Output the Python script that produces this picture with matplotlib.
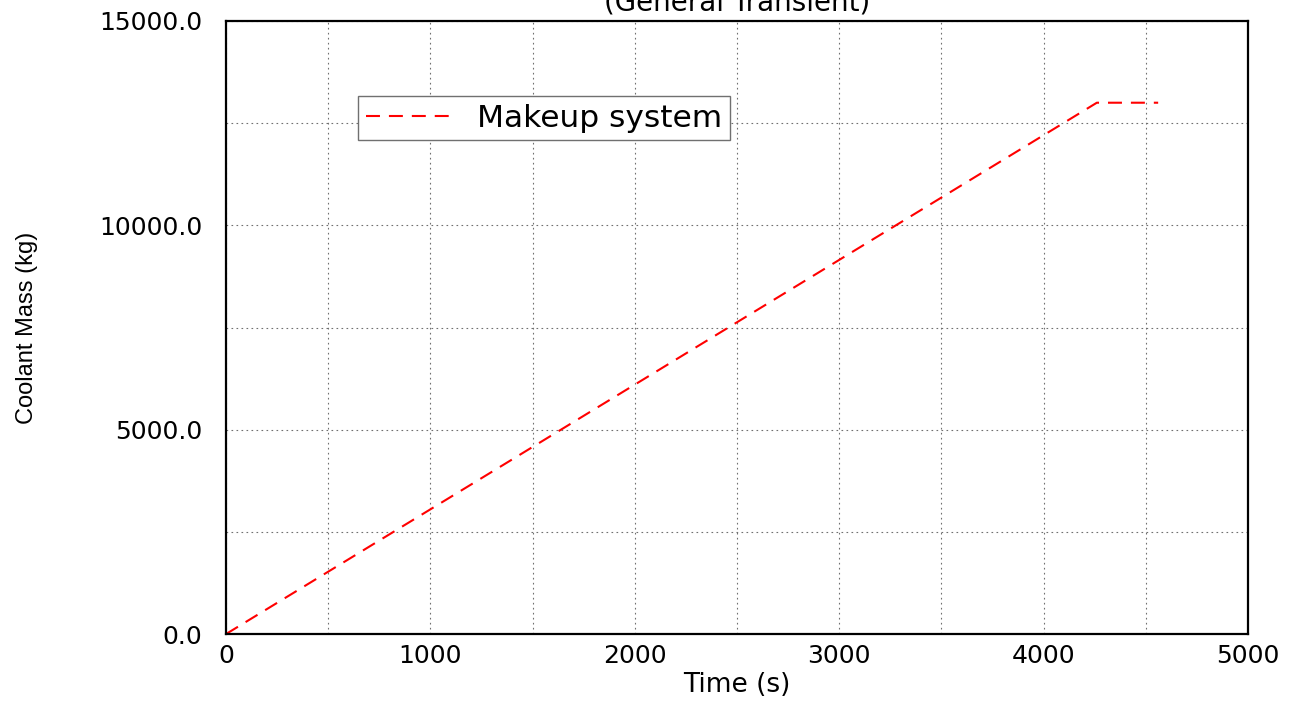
import numpy as np
import matplotlib.pyplot as plt

plt.rcParams['font.family'] = ['DejaVu Sans']

# Datos
time_s = [0, 4260, 4560]
mass_kg = [0.0, 13000.0, 13000.0]
series_label = 'Makeup system'

x_ticks = [0, 1000, 2000, 3000, 4000, 5000]
y_ticks = [0.0, 5000.0, 10000.0, 15000.0]

fig = plt.figure(figsize=(13.02, 7.04), dpi=100)
ax = fig.add_axes([0.1736, 0.0994, 0.785, 0.8708])

ax.plot(time_s, mass_kg, color='red', linestyle=(0, (6.7, 4.3)), linewidth=1.5, label=series_label)

ax.set_xlim(0, 5000)
ax.set_ylim(0, 15000)
ax.set_xticks(x_ticks)
ax.set_yticks(y_ticks)
ax.set_yticklabels([f'{v:.1f}' for v in y_ticks])
ax.set_xticks(np.arange(500, 5000, 1000), minor=True)
ax.set_yticks([2500, 7500, 12500], minor=True)
ax.tick_params(which='both', length=0, labelsize=18)
ax.tick_params(axis='y', pad=17)
ax.tick_params(axis='x', pad=7)
ax.grid(True, which='both', color='#707070', linestyle=(0, (1.5, 3)), linewidth=0.8)

for s in ax.spines.values():
    s.set_linewidth(1.6)
    s.set_color('black')

ax.set_xlabel('Time (s)', fontsize=19)
ax.xaxis.set_label_coords(0.5, -0.062)
ax.set_ylabel('Coolant Mass (kg)', fontsize=17, family=['Liberation Sans'])
ax.yaxis.set_label_coords(-0.184, 0.5)

fig.text(0.566, 1 - 11 / 704, '(General Transient)', ha='center', va='baseline', fontsize=20)

leg = ax.legend(loc='upper left', bbox_to_anchor=(0.129, 0.878), fontsize=22.5,
                fancybox=False, framealpha=1, edgecolor='#707070',
                handlelength=2.9, handletextpad=0.65, borderpad=0.25, borderaxespad=0)
leg.get_frame().set_linewidth(1.0)

fig.savefig('out.png', dpi=100)
